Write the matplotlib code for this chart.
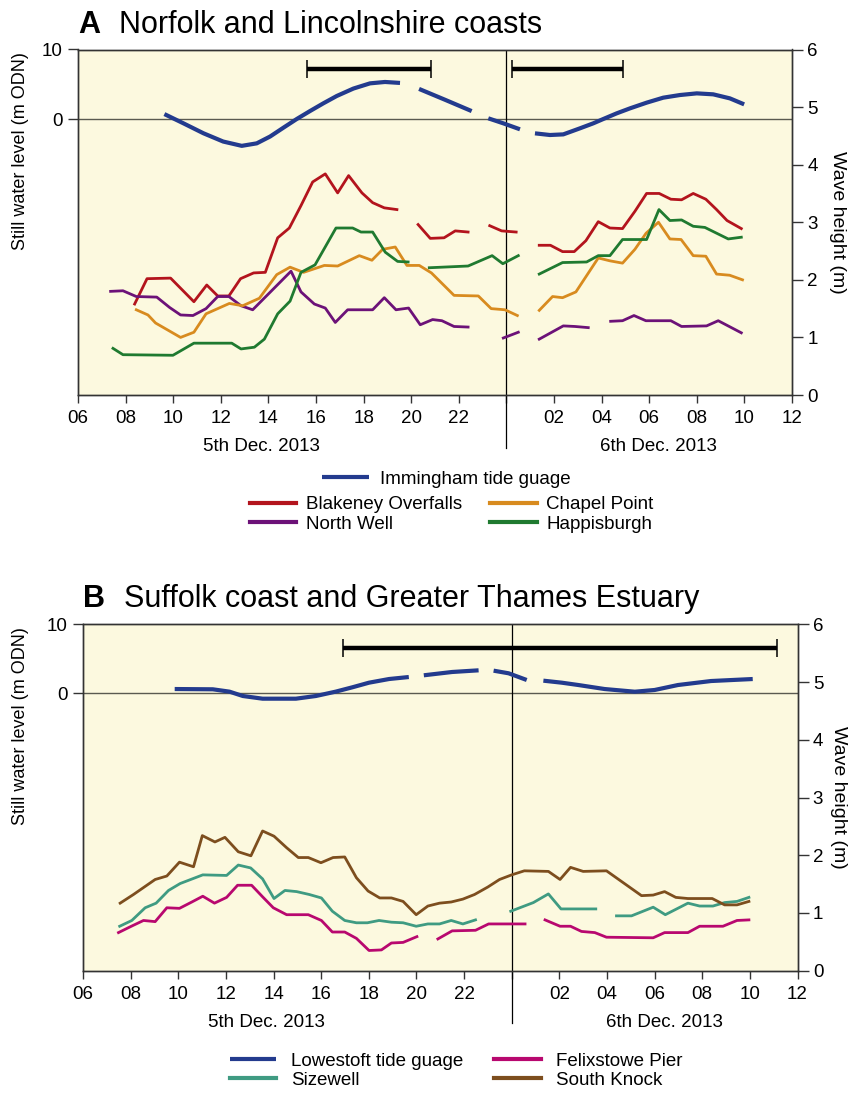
import numpy as np
import matplotlib
matplotlib.use("Agg")
import matplotlib.pyplot as plt
from matplotlib.transforms import blended_transform_factory

plt.rcParams['font.family'] = ['Liberation Sans', 'DejaVu Sans']
nan = np.nan

# ---------------- Panel A data ----------------
tideA_h = [9.63, 10.43, 11.27, 12.1, 12.88, 13.51, 14.07, 14.63, 15.19, 15.75, 16.31, 16.87, 17.57, 18.27, 18.9,
           19.53, nan,
           20.33, 21.4, 22.54, nan,
           23.24, 23.87, 24.57, nan,
           25.2, 25.83, 26.39, 27.09, 27.65, 28.07, 28.63, 29.19, 29.89, 30.59, 31.29, 32.0, 32.69, 33.39, 33.99]
tideA_v = [0.71, -0.62, -2.05, -3.24, -3.86, -3.5, -2.52, -1.25, 0.0, 1.15, 2.26, 3.31, 4.38, 5.13, 5.33,
           5.19, nan,
           4.33, 2.8, 1.14, nan,
           0.1, -0.62, -1.48, nan,
           -2.06, -2.30, -2.21, -1.34, -0.62, 0.0, 0.81, 1.53, 2.35, 3.07, 3.45, 3.69, 3.55, 2.97, 2.11]

blak_h = [8.38, 8.90, 9.89, 10.87, 11.41, 11.87, 12.34, 12.83, 13.38, 13.87, 14.39, 14.88, 15.37, 15.86, 16.39,
          16.91, 17.37, 17.93, 18.38, 18.87, 19.40, nan, 20.29, 20.80, 21.38, 21.85, 22.39, nan, 23.30, 23.80,
          24.41, nan, 25.38, 25.85, 26.36, 26.85, 27.34, 27.86, 28.35, 28.88, 29.40, 29.89, 30.42, 30.91, 31.36,
          31.85, 32.38, 32.83, 33.27, 33.87]
blak_v = [1.58, 2.02, 2.03, 1.62, 1.91, 1.72, 1.72, 2.02, 2.12, 2.13, 2.73, 2.90, 3.29, 3.70, 3.84,
          3.51, 3.81, 3.51, 3.34, 3.25, 3.22, nan, 2.96, 2.72, 2.73, 2.85, 2.83, nan, 2.94, 2.85,
          2.83, nan, 2.60, 2.60, 2.49, 2.49, 2.68, 3.01, 2.90, 2.89, 3.19, 3.50, 3.50, 3.40, 3.39,
          3.50, 3.40, 3.22, 3.03, 2.89]

happ_h = [7.47, 7.89, 9.99, 10.87, 12.46, 12.85, 13.41, 13.83, 14.39, 14.91, 15.37, 15.96, 16.84, 17.54, 17.89,
          18.38, 18.91, 19.43, 19.87, nan, 20.76, 22.39, 23.40, 23.85, 24.50, nan, 25.38, 26.36, 27.37, 27.86,
          28.35, 28.88, 29.89, 30.41, 30.87, 31.36, 31.85, 32.34, 33.32, 33.87]
happ_v = [0.81, 0.70, 0.69, 0.90, 0.90, 0.80, 0.83, 0.97, 1.41, 1.63, 2.13, 2.26, 2.90, 2.90, 2.83,
          2.83, 2.48, 2.32, 2.31, nan, 2.21, 2.24, 2.42, 2.28, 2.42, nan, 2.10, 2.30, 2.31, 2.42,
          2.42, 2.70, 2.70, 3.22, 3.03, 3.04, 2.93, 2.91, 2.71, 2.74]

chap_h = [8.45, 8.94, 9.26, 10.31, 10.87, 11.38, 12.36, 12.92, 13.62, 14.35, 14.91, 15.48, 16.35, 16.91, 17.82,
          18.35, 18.80, 19.33, 19.82, 20.34, 20.85, 21.80, 22.82, 23.36, 23.94, 24.46, nan, 25.38, 25.94, 26.36,
          26.92, 27.86, 28.35, 28.88, 29.40, 29.87, 30.39, 30.87, 31.34, 31.85, 32.38, 32.83, 33.38, 33.92]
chap_v = [1.48, 1.39, 1.25, 1.00, 1.09, 1.41, 1.59, 1.55, 1.68, 2.09, 2.22, 2.13, 2.25, 2.24, 2.42,
          2.34, 2.53, 2.57, 2.25, 2.25, 2.12, 1.73, 1.72, 1.50, 1.48, 1.38, nan, 1.47, 1.71, 1.69,
          1.79, 2.38, 2.33, 2.29, 2.53, 2.81, 3.00, 2.71, 2.70, 2.42, 2.41, 2.10, 2.08, 2.00]

nwell_h = [7.37, 7.89, 8.45, 9.31, 9.85, 10.31, 10.83, 11.38, 11.87, 12.34, 12.85, 13.34, 14.95, 15.37, 15.93,
           16.39, 16.81, 17.33, 18.38, 18.87, 19.36, 19.89, 20.38, 20.90, 21.29, 21.80, 22.39, nan, 23.87, 24.50,
           nan, 25.38, 26.39, 26.88, 27.44, nan, 28.38, 28.88, 29.36, 29.86, 30.91, 31.36, 32.41, 32.90, 33.87]
nwell_v = [1.80, 1.81, 1.71, 1.70, 1.52, 1.39, 1.38, 1.50, 1.71, 1.71, 1.55, 1.48, 2.15, 1.79, 1.58,
           1.51, 1.26, 1.48, 1.48, 1.69, 1.48, 1.51, 1.22, 1.31, 1.29, 1.19, 1.18, nan, 0.99, 1.09,
           nan, 0.97, 1.20, 1.19, 1.17, nan, 1.28, 1.29, 1.38, 1.29, 1.29, 1.19, 1.20, 1.29, 1.08]

barsA_start = [15.61, 24.25]
barsA_end = [20.82, 28.88]
barsA_level = [7.24, 7.24]

# ---------------- Panel B data ----------------
tideB_h = [9.85, 11.45, 12.15, 12.71, 13.54, 14.94, 15.78, 16.61, 17.31, 18.01, 18.85, 19.68, nan,
           20.31, 21.5, 22.61, nan,
           23.24, 23.87, 24.63, nan,
           25.33, 26.1, 26.8, 27.9, 29.17, 30.0, 30.98, 32.37, 34.12]
tideB_v = [0.62, 0.58, 0.24, -0.39, -0.78, -0.78, -0.39, 0.24, 0.87, 1.54, 2.07, 2.36, nan,
           2.61, 3.09, 3.33, nan,
           3.28, 2.9, 1.93, nan,
           1.83, 1.54, 1.2, 0.62, 0.23, 0.48, 1.2, 1.78, 2.07]

sk_h = [7.56, 8.12, 9.03, 9.52, 10.05, 10.64, 11.01, 11.54, 11.96, 12.52, 13.05, 13.54, 14.02, 14.55, 15.04,
        15.46, 15.99, 16.50, 16.99, 17.48, 17.97, 18.46, 18.95, 19.44, 19.99, 20.48, 20.97, 21.46, 21.95, 22.44,
        23.0, 23.49, 24.0, 24.53, 25.54, 26.03, 26.47, 27.0, 27.98, 29.45, 29.94, 30.42, 30.89, 31.40, 32.42,
        32.94, 33.46, 33.96]
sk_v = [1.17, 1.32, 1.58, 1.64, 1.88, 1.80, 2.34, 2.23, 2.31, 2.06, 1.99, 2.42, 2.33, 2.13, 1.96,
        1.96, 1.87, 1.96, 1.97, 1.61, 1.38, 1.26, 1.26, 1.20, 0.97, 1.12, 1.17, 1.19, 1.24, 1.32,
        1.45, 1.58, 1.66, 1.73, 1.72, 1.58, 1.79, 1.72, 1.73, 1.30, 1.31, 1.37, 1.27, 1.25, 1.25,
        1.14, 1.14, 1.20]

size_h = [7.54, 8.05, 8.61, 9.07, 9.59, 10.08, 11.03, 12.03, 12.52, 13.04, 13.54, 14.02, 14.48, 14.97, 15.50,
          16.01, 16.47, 16.99, 17.48, 17.94, 18.43, 18.95, 19.44, 19.99, 20.48, 20.97, 21.46, 21.95, 22.48, nan,
          23.96, 24.91, 25.54, 26.07, 27.53, nan, 28.40, 29.03, 29.94, 30.45, 31.40, 31.89, 32.45, 32.94, 33.46,
          33.96]
size_v = [0.77, 0.87, 1.09, 1.17, 1.39, 1.51, 1.66, 1.65, 1.83, 1.78, 1.59, 1.25, 1.39, 1.37, 1.32,
          1.26, 1.03, 0.87, 0.83, 0.83, 0.87, 0.84, 0.83, 0.77, 0.81, 0.81, 0.87, 0.81, 0.88, nan,
          1.03, 1.18, 1.33, 1.07, 1.07, nan, 0.95, 0.95, 1.10, 0.97, 1.17, 1.12, 1.12, 1.18, 1.20,
          1.27]

felx_h = [7.49, 8.03, 8.54, 9.03, 9.52, 10.05, 10.57, 11.03, 11.52, 12.03, 12.49, 13.08, 13.54, 13.99, 14.55,
          15.46, 16.01, 16.47, 16.99, 17.48, 18.01, 18.53, 18.95, 19.44, 20.02, nan, 20.90, 21.50, 22.48, 23.03,
          24.56, nan, 25.40, 26.03, 26.47, 26.93, 27.49, 27.98, 29.94, 30.42, 31.40, 31.89, 32.87, 33.46, 33.96]
felx_v = [0.66, 0.77, 0.87, 0.85, 1.09, 1.08, 1.19, 1.29, 1.17, 1.27, 1.48, 1.48, 1.28, 1.09, 0.97,
          0.97, 0.87, 0.67, 0.67, 0.56, 0.35, 0.36, 0.48, 0.49, 0.59, nan, 0.55, 0.69, 0.70, 0.81,
          0.81, nan, 0.88, 0.77, 0.77, 0.68, 0.66, 0.58, 0.57, 0.66, 0.66, 0.77, 0.77, 0.87, 0.88]

barsB_start = [16.93]
barsB_end = [35.13]
barsB_level = [6.52]

tick_hours = list(range(6, 37, 2))
tick_labels = ['' if h == 24 else '%02d' % (h % 24) for h in tick_hours]

# ---------------- styles ----------------
BG = '#fcf9df'
TIDE = '#233b8e'
C_BLAK = '#b3141d'
C_CHAP = '#d88b1f'
C_NWELL = '#6c1278'
C_HAPP = '#1f7a30'
C_SIZE = '#3f9b82'
C_FELX = '#b8086f'
C_SK = '#7d4e1e'
FS = 13.5
SPINE = '#333333'

fig = plt.figure(figsize=(8.51, 10.93), dpi=100)


def setup_panel(rect, ylim_left, letter, title, ylab_x, yr_x):
    ax = fig.add_axes(rect)
    ax.set_facecolor(BG)
    ax.set_xlim(6, 36)
    ax.set_ylim(*ylim_left)
    ax.set_yticks([0, 10])
    ax.set_yticklabels(['0', '10'])
    ax.set_xticks(tick_hours)
    ax.set_xticklabels(tick_labels)
    ax.tick_params(axis='y', direction='out', length=7, width=1, pad=4, labelsize=FS, color=SPINE)
    ax.tick_params(axis='x', direction='out', length=6, width=1, pad=5, labelsize=FS, color=SPINE)
    for s in ax.spines.values():
        s.set_color(SPINE)
        s.set_linewidth(1.0)
    ax.axhline(0, color='#5a5a50', lw=1.0, zorder=1)
    ax.axvline(24, color='black', lw=0.9, zorder=1)
    tr = blended_transform_factory(ax.transData, ax.transAxes)
    ax.plot([24, 24], [0, -0.152], transform=tr, color='black', lw=0.9, clip_on=False)
    ax.text(13.7, -0.15, '5th Dec. 2013', transform=tr, ha='center', va='center', fontsize=FS)
    ax.text(30.4, -0.15, '6th Dec. 2013', transform=tr, ha='center', va='center', fontsize=FS)
    ax.text(0.0, 1.049, letter, transform=ax.transAxes, ha='left', va='baseline', fontsize=22,
            fontweight='bold')
    ax.text(0.0575, 1.049, title, transform=ax.transAxes, ha='left', va='baseline', fontsize=22)
    ax.text(ylab_x, 0.993, 'Still water level (m ODN)', transform=ax.transAxes, rotation=90,
            ha='center', va='top', fontsize=13)

    ax2 = ax.twinx()
    ax2.set_ylim(0, 6)
    ax2.set_yticks(range(0, 7))
    ax2.tick_params(axis='y', direction='out', length=8, width=1, pad=3, labelsize=FS, color=SPINE)
    for s in ax2.spines.values():
        s.set_color(SPINE)
        s.set_linewidth(1.0)
    ax2.text(yr_x, 0.5, 'Wave height (m)', transform=ax2.transAxes, rotation=270,
             ha='center', va='center', fontsize=14)
    return ax, ax2


def draw_bars(ax, start, end, level):
    s = np.array(start)
    e = np.array(end)
    ax.errorbar((s + e) / 2, level, xerr=(e - s) / 2, fmt='none', ecolor='black', elinewidth=3.2,
                capsize=6.8, capthick=1.1, zorder=4)


# ---------------- Panel A ----------------
axA, axA2 = setup_panel([78 / 851, 1 - 395 / 1093, 714 / 851, 345.5 / 1093], (-39.7, 10),
                        'A', 'Norfolk and Lincolnshire coasts', -0.0805, 1.064)
draw_bars(axA, barsA_start, barsA_end, barsA_level)
lw_w = 2.0
hA_tide, = axA.plot(tideA_h, tideA_v, color=TIDE, lw=3.0, solid_capstyle='butt',
                    solid_joinstyle='round', zorder=3, label='Immingham tide guage')
hB, = axA2.plot(blak_h, blak_v, color=C_BLAK, lw=lw_w, label='Blakeney Overfalls')
hNW, = axA2.plot(nwell_h, nwell_v, color=C_NWELL, lw=lw_w, label='North Well')
hCP, = axA2.plot(chap_h, chap_v, color=C_CHAP, lw=lw_w, label='Chapel Point')
hH, = axA2.plot(happ_h, happ_v, color=C_HAPP, lw=lw_w, label='Happisburgh')

leg1 = fig.legend(handles=[hA_tide], loc='center', bbox_to_anchor=(446.5 / 851, 1 - 479 / 1093),
                  frameon=False, fontsize=FS, handlelength=2.5, handletextpad=0.6, borderpad=0,
                  borderaxespad=0)
leg2 = fig.legend(handles=[hB, hNW, hCP, hH], loc='center', ncol=2,
                  bbox_to_anchor=(451.5 / 851, 1 - 514.5 / 1093), frameon=False, fontsize=FS,
                  handlelength=2.5, handletextpad=0.5, columnspacing=1.5, labelspacing=0.12,
                  borderpad=0, borderaxespad=0)

# ---------------- Panel B ----------------
axB, axB2 = setup_panel([83 / 851, 1 - 970.7 / 1093, 714.5 / 851, 346.4 / 1093], (-40.2, 10),
                        'B', 'Suffolk coast and Greater Thames Estuary', -0.0875, 1.058)
draw_bars(axB, barsB_start, barsB_end, barsB_level)
hL, = axB.plot(tideB_h, tideB_v, color=TIDE, lw=3.0, solid_capstyle='butt',
               solid_joinstyle='round', zorder=3, label='Lowestoft tide guage')
hS, = axB2.plot(size_h, size_v, color=C_SIZE, lw=lw_w, label='Sizewell')
hF, = axB2.plot(felx_h, felx_v, color=C_FELX, lw=lw_w, label='Felixstowe Pier')
hK, = axB2.plot(sk_h, sk_v, color=C_SK, lw=lw_w, label='South Knock')

leg3 = fig.legend(handles=[hL, hS, hF, hK], loc='center', ncol=2,
                  bbox_to_anchor=(455.75 / 851, 1 - 1070.7 / 1093), frameon=False, fontsize=FS,
                  handlelength=2.5, handletextpad=0.8, columnspacing=1.6, labelspacing=0.12,
                  borderpad=0, borderaxespad=0)
for lg in (leg1, leg2, leg3):
    for l in lg.get_lines():
        l.set_linewidth(3.0)

fig.savefig('out.png', dpi=100)
